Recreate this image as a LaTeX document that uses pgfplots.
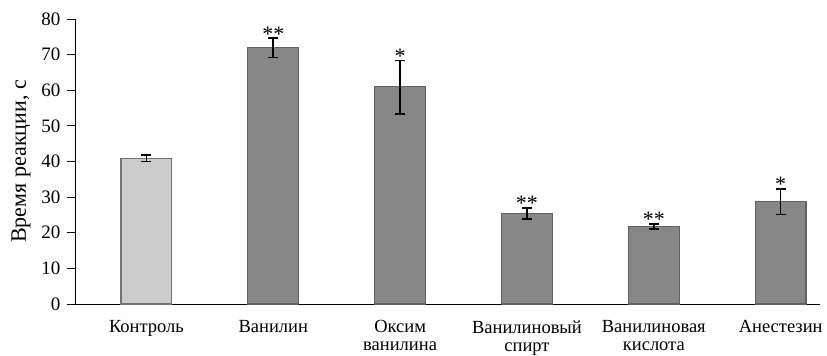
\documentclass[border=0pt]{standalone}
\usepackage{pgfplots}
\pgfplotsset{compat=1.18}
\usepackage{fontspec}
\setmainfont{Liberation Serif}
\begin{document}
\fontsize{19bp}{22bp}\selectfont
\begin{tikzpicture}
\begin{axis}[
  scale only axis,
  width=745bp, height=285bp,
  xmin=-0.563, xmax=5.31,
  ymin=0, ymax=80,
  axis x line=bottom, axis y line=left,
  axis line style={-, line width=0.9bp},
  ytick={0,10,...,80},
  xtick={0,1,2,3,4,5},
  xticklabels={Контроль, Ванилин, {Оксим\\ванилина}, {Ванилиновый\\спирт}, {Ванилиновая\\кислота}, Анестезин},
  xticklabel style={align=center, font=\fontsize{18.5bp}{18bp}\selectfont, yshift=-2bp},
  yticklabel style={font=\fontsize{19bp}{21bp}\selectfont},
  /pgf/number format/assume math mode=true,
  major x tick style={draw=none},
  y tick style={line width=0.9bp, black},
  tick align=outside,
  major tick length=8bp,
  ylabel={Время реакции, с},
  ylabel style={font=\fontsize{22bp}{24bp}\selectfont, yshift=-2bp},
  bar width=0.4,
  ybar, bar shift=0pt,
  clip=false,
]
\coordinate (sw) at (rel axis cs:0,0);
\coordinate (ne) at (rel axis cs:1,1);
\addplot[fill=black!20, draw=black!55, line width=1.2bp,
  error bars/.cd, y dir=both, y explicit,
  error bar style={black, line width=1.6bp},
  error mark options={rotate=90, mark size=5bp, line width=1.6bp, black}]
  coordinates {(0,40.9) +- (0,0.9)};
\addplot[fill=black!47, draw=black!62, line width=1.2bp,
  error bars/.cd, y dir=both, y explicit,
  error bar style={black, line width=1.6bp},
  error mark options={rotate=90, mark size=5bp, line width=1.6bp, black}]
  coordinates {
    (1,71.9) += (0,2.7) -= (0,2.7)
    (2,61.0) += (0,7.4) -= (0,7.7)
    (3,25.4) += (0,1.5) -= (0,1.5)
    (4,21.8) += (0,0.7) -= (0,0.75)
    (5,28.7) += (0,3.6) -= (0,3.6)
  };
\addplot[draw=none, fill=none, forget plot,
  point meta=explicit symbolic,
  nodes near coords, nodes near coords align={above},
  every node near coord/.append style={font=\fontsize{22bp}{24bp}\selectfont, inner sep=1bp, yshift=-4bp}]
  coordinates {
    (1,74.6) [**]
    (2,68.4) [*]
    (3,26.9) [**]
    (4,22.5) [**]
    (5,32.3) [*]
  };
\end{axis}
\pgfresetboundingbox
\path[use as bounding box] ([shift={(-75bp,-52bp)}]sw) rectangle ([shift={(7bp,19bp)}]ne);
\end{tikzpicture}
\end{document}
